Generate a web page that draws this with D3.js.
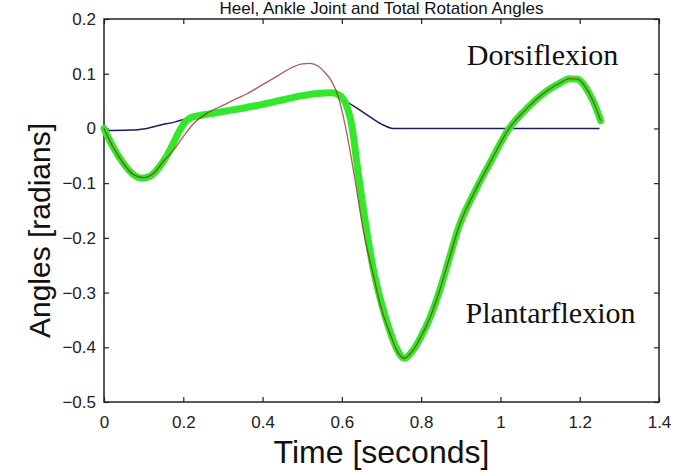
<!DOCTYPE html>
<html>
<head>
<meta charset="utf-8">
<script src="https://cdn.jsdelivr.net/npm/d3@7"></script>
<style>
  body { margin: 0; background: #fff; }
  svg { display: block; }
  .tick text { font-family: Arial, "Liberation Sans", sans-serif; font-size: 17px; fill: #222; }
</style>
</head>
<body>
<div id="chart"></div>
<script>
const width = 675;
const height = 473;

// values (time in s, angle in rad)
const greenT = [0, 0.02, 0.05, 0.075, 0.095, 0.115, 0.14, 0.16, 0.175, 0.19, 0.205, 0.22, 0.245, 0.27, 0.3, 0.35, 0.4, 0.45, 0.5, 0.54, 0.575, 0.595, 0.61, 0.625, 0.64, 0.66, 0.68, 0.7, 0.72, 0.74, 0.757, 0.78, 0.8, 0.82, 0.845, 0.87, 0.895, 0.935, 0.975, 1.022, 1.07, 1.12, 1.15, 1.175, 1.195, 1.215, 1.235, 1.253];
const greenY = [0, -0.03, -0.065, -0.085, -0.091, -0.088, -0.07, -0.048, -0.027, -0.005, 0.012, 0.02, 0.024, 0.027, 0.031, 0.037, 0.044, 0.052, 0.06, 0.064, 0.065, 0.06, 0.045, 0.005, -0.075, -0.175, -0.26, -0.32, -0.368, -0.405, -0.42, -0.405, -0.38, -0.35, -0.3, -0.24, -0.18, -0.116, -0.061, 0, 0.039, 0.07, 0.083, 0.091, 0.09, 0.075, 0.048, 0.014];

const redT = [0, 0.02, 0.05, 0.075, 0.1, 0.125, 0.15, 0.175, 0.2, 0.225, 0.26, 0.3, 0.33, 0.36, 0.4, 0.44, 0.47, 0.5, 0.52, 0.54, 0.555, 0.575, 0.59, 0.61, 0.63, 0.655, 0.68, 0.7, 0.72, 0.74, 0.757, 0.78, 0.8, 0.82, 0.845, 0.87, 0.895, 0.935, 0.975, 1.022, 1.07, 1.12, 1.15, 1.175, 1.195, 1.215, 1.235, 1.253];
const redY = [0, -0.03, -0.065, -0.085, -0.09, -0.082, -0.06, -0.04, -0.015, 0.008, 0.028, 0.042, 0.053, 0.063, 0.08, 0.097, 0.11, 0.118, 0.119, 0.114, 0.104, 0.085, 0.06, 0.0, -0.08, -0.19, -0.27, -0.33, -0.372, -0.408, -0.42, -0.405, -0.38, -0.35, -0.3, -0.24, -0.18, -0.116, -0.061, 0, 0.039, 0.07, 0.083, 0.091, 0.09, 0.075, 0.048, 0.014];

const blueT = [0, 0.066, 0.1, 0.141, 0.18, 0.209, 0.25, 0.3, 0.35, 0.4, 0.45, 0.5, 0.55, 0.585, 0.612, 0.64, 0.671, 0.7, 0.73, 1.25];
const blueY = [-0.004, -0.003, -0.001, 0.006, 0.012, 0.018, 0.023, 0.029, 0.035, 0.042, 0.05, 0.057, 0.062, 0.06, 0.049, 0.036, 0.021, 0.008, 0.0, 0.0];

const xTicks = [0, 0.2, 0.4, 0.6, 0.8, 1, 1.2, 1.4];
const yTicks = [0.2, 0.1, 0, -0.1, -0.2, -0.3, -0.4, -0.5];

const titleText = "Heel, Ankle Joint and Total Rotation Angles";
const xLabel = "Time [seconds]";
const yLabel = "Angles [radians]";
const notes = [
  { text: "Dorsiflexion", x: 0.915, y: 0.116 },
  { text: "Plantarflexion", x: 0.912, y: -0.355 },
];

const m = { left: 104, right: 16, top: 19, bottom: 71 };

const x = d3.scaleLinear().domain([0, 1.4]).range([m.left, width - m.right]);
const y = d3.scaleLinear().domain([-0.5, 0.2]).range([height - m.bottom, m.top]);

const svg = d3.select("#chart").append("svg")
  .attr("width", width)
  .attr("height", height)
  .attr("viewBox", [0, 0, width, height]);

// title squeezed into the strip above the box
svg.append("text")
  .attr("x", (x(0) + x(1.4)) / 2)
  .attr("y", 14)
  .attr("text-anchor", "middle")
  .style("font-family", "Arial, 'Liberation Sans', sans-serif")
  .style("font-size", "17px")
  .style("fill", "#111")
  .text(titleText);

const fmt = (d) => (d === 0 ? "0" : d3.format("")(d));

// axes, ticks pointing inward
svg.append("g")
  .attr("transform", `translate(0,${y(-0.5)})`)
  .call(d3.axisBottom(x).tickValues(xTicks).tickFormat(fmt).tickSizeInner(-5).tickSizeOuter(0).tickPadding(14))
  .call((g) => g.select(".domain").remove());
svg.append("g")
  .attr("transform", `translate(0,${y(0.2)})`)
  .call(d3.axisTop(x).tickValues(xTicks).tickFormat("").tickSizeInner(-5).tickSizeOuter(0))
  .call((g) => g.select(".domain").remove());
svg.append("g")
  .attr("transform", `translate(${x(0)},0)`)
  .call(d3.axisLeft(y).tickValues(yTicks).tickFormat(fmt).tickSizeInner(-5).tickSizeOuter(0).tickPadding(8))
  .call((g) => g.select(".domain").remove());
svg.append("g")
  .attr("transform", `translate(${x(1.4)},0)`)
  .call(d3.axisRight(y).tickValues(yTicks).tickFormat("").tickSizeInner(-5).tickSizeOuter(0))
  .call((g) => g.select(".domain").remove());

svg.selectAll(".tick line").attr("stroke", "#222").attr("stroke-width", 1.2);

svg.append("rect")
  .attr("x", x(0))
  .attr("y", y(0.2))
  .attr("width", x(1.4) - x(0))
  .attr("height", y(-0.5) - y(0.2))
  .attr("fill", "none")
  .attr("stroke", "#222")
  .attr("stroke-width", 1.5);

const line = d3.line()
  .x((d) => x(d[0]))
  .y((d) => y(d[1]))
  .curve(d3.curveMonotoneX);

const zip = (a, b) => a.map((t, i) => [t, b[i]]);

svg.append("path")
  .datum(zip(blueT, blueY))
  .attr("d", line)
  .attr("fill", "none")
  .attr("stroke", "#1c1c5c")
  .attr("stroke-width", 1.5);

svg.append("path")
  .datum(zip(greenT, greenY))
  .attr("d", line)
  .attr("fill", "none")
  .attr("stroke", "#33e82a")
  .attr("stroke-width", 7)
  .attr("stroke-linejoin", "round")
  .attr("stroke-linecap", "round");

svg.append("path")
  .datum(zip(redT, redY))
  .attr("d", line)
  .attr("fill", "none")
  .attr("stroke", "#8a2a1e")
  .attr("stroke-opacity", 0.75)
  .attr("stroke-width", 1.3);

svg.selectAll(".note")
  .data(notes)
  .join("text")
  .attr("class", "note")
  .attr("x", (d) => x(d.x))
  .attr("y", (d) => y(d.y))
  .style("font-family", "'Times New Roman', 'Liberation Serif', serif")
  .style("font-size", "30px")
  .style("fill", "#111")
  .text((d) => d.text);

svg.append("text")
  .attr("x", (x(0) + x(1.4)) / 2)
  .attr("y", 463)
  .attr("text-anchor", "middle")
  .style("font-family", "Arial, 'Liberation Sans', sans-serif")
  .style("font-size", "32px")
  .style("fill", "#111")
  .text(xLabel);

svg.append("text")
  .attr("transform", `translate(50,${(y(0.2) + y(-0.5)) / 2 + 20}) rotate(-90)`)
  .attr("text-anchor", "middle")
  .style("font-family", "Arial, 'Liberation Sans', sans-serif")
  .style("font-size", "30px")
  .style("fill", "#111")
  .text(yLabel);
</script>
</body>
</html>
